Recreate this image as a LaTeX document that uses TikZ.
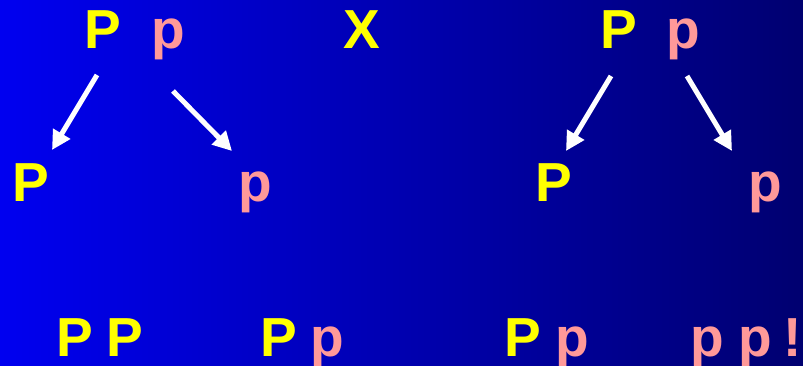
\documentclass[tikz,border=0pt]{standalone}
\usepackage{fontspec}
\setmainfont{Liberation Sans}
\usetikzlibrary{arrows.meta}
\definecolor{bgleft}{RGB}{0,0,240}
\definecolor{bgright}{RGB}{0,0,112}
\definecolor{dom}{RGB}{255,255,0}
\definecolor{rec}{RGB}{255,153,153}
\tikzset{
  letter/.style={inner sep=0pt, anchor=base, font=\fontsize{55}{60}\selectfont\bfseries},
  bigP/.style={letter, text=dom},
  smallp/.style={letter, text=rec},
  cross/.style={letter, text=dom},
  arr/.style={draw=white, line width=5pt, -{Triangle[length=19pt,width=19pt]}}
}
\begin{document}
\begin{tikzpicture}[x=1pt,y=-1pt]
\shade[left color=bgleft, right color=bgright] (0,0) rectangle (803,366);
\useasboundingbox (0,0) rectangle (803,366);
% top row
\node[bigP]  (tlP) at (103,49) {P};
\node[smallp](tlp) at (168,49) {p};
\node[cross] (x)   at (362,49) {X};
\node[bigP]  (trP) at (619,49) {P};
\node[smallp](trp) at (683,49) {p};
% middle row
\node[bigP]  (mlP) at (31,202) {P};
\node[smallp](mlp) at (255,202) {p};
\node[bigP]  (mrP) at (554,202) {P};
\node[smallp](mrp) at (765,202) {p};
% bottom row
\node[bigP]  (b1) at (75,356) {P};
\node[bigP]  (b2) at (125,356) {P};
\node[bigP]  (b3) at (279,356) {P};
\node[smallp](b4) at (327,356) {p};
\node[bigP]  (b5) at (523,356) {P};
\node[smallp](b6) at (572,356) {p};
\node[smallp](b7) at (707,356) {p};
\node[smallp](b8) at (755,356) {p};
\node[smallp](b9) at (793,356) {!};
% arrows
\coordinate (a1s) at (97,75);  \coordinate (a1e) at (52,150);
\coordinate (a2s) at (173,91); \coordinate (a2e) at (232,151);
\coordinate (a3s) at (611,76); \coordinate (a3e) at (566,151);
\coordinate (a4s) at (687,76); \coordinate (a4e) at (732,151);
\draw[arr] (a1s) -- (a1e);
\draw[arr] (a2s) -- (a2e);
\draw[arr] (a3s) -- (a3e);
\draw[arr] (a4s) -- (a4e);
\end{tikzpicture}
\end{document}
